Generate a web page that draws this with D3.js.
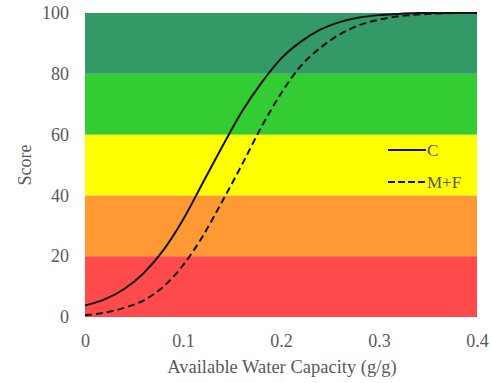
<!DOCTYPE html>
<html><head><meta charset="utf-8">
<script src="https://cdn.jsdelivr.net/npm/d3@7"></script>
<style>body{margin:0;background:#fff}svg{display:block}</style>
</head><body>
<svg id="chart" width="491" height="383"></svg>
<script>
const xValues = [0,0.02,0.04,0.06,0.08,0.10,0.12,0.14,0.16,0.18,0.20,0.22,0.24,0.26,0.28,0.30,0.32,0.34,0.36,0.38,0.40];
const seriesC  = [3.8,5.8,9.2,14.5,22,32,44,56,67.5,77,85,90.5,94.5,97,98.5,99.3,99.7,100,100,100,100];
const seriesMF = [0.6,1.4,3.0,5.5,10,17,26.5,38,50,62.5,73.5,82.5,88.5,93,96,97.8,98.9,99.5,99.8,100,100];
const bands = [
  {from:0,to:20,color:"#ff4b4b"},
  {from:20,to:40,color:"#ff9933"},
  {from:40,to:60,color:"#ffff00"},
  {from:60,to:80,color:"#33cc33"},
  {from:80,to:100,color:"#339966"}
];
const xTicks = [0,0.1,0.2,0.3,0.4];
const yTicks = [0,20,40,60,80,100];
const legendItems = [{name:"C",data:seriesC,dash:null},{name:"M+F",data:seriesMF,dash:"7,4"}];

const svg = d3.select("#chart");
const mLeft=85,mRight=477,mTop=13,mBottom=317;
const x = d3.scaleLinear().domain([0,0.4]).range([mLeft,mRight]);
const y = d3.scaleLinear().domain([0,100]).range([mBottom,mTop]);
const font = "'Liberation Serif','Times New Roman',serif";

svg.selectAll("rect.band").data(bands).enter().append("rect")
  .attr("x",x(0)).attr("width",x(0.4)-x(0))
  .attr("y",d=>y(d.to)).attr("height",d=>y(d.from)-y(d.to))
  .attr("fill",d=>d.color);

const line = d3.line().x((d,i)=>x(xValues[i])).y(d=>y(d)).curve(d3.curveMonotoneX);
legendItems.forEach(s=>{
  svg.append("path").attr("d",line(s.data)).attr("fill","none")
    .attr("stroke","#111").attr("stroke-width",2)
    .attr("stroke-dasharray",s.dash);
});

const xAxis = svg.append("g").attr("transform",`translate(0,${mBottom+14})`)
  .call(d3.axisBottom(x).tickValues(xTicks).tickSize(0).tickFormat(d=>d===0?"0":d3.format(".1f")(d)));
const yAxis = svg.append("g").attr("transform",`translate(${mLeft-13},0)`)
  .call(d3.axisLeft(y).tickValues(yTicks).tickSize(0));
[xAxis,yAxis].forEach(a=>{
  a.select(".domain").remove();
  a.selectAll("text").attr("font-family",font).attr("font-size",18).attr("fill","#595959");
});

svg.append("text").attr("x",(mLeft+mRight)/2 + 1).attr("y",373).attr("text-anchor","middle")
  .attr("font-family",font).attr("font-size",18.5).attr("fill","#595959")
  .text("Available Water Capacity (g/g)");
svg.append("text").attr("transform",`translate(31,165) rotate(-90)`)
  .attr("text-anchor","middle").attr("font-family",font).attr("font-size",18).attr("fill","#595959")
  .text("Score");

legendItems.forEach((s,i)=>{
  const ly = 150 + i*32;
  svg.append("line").attr("x1",388).attr("x2",426).attr("y1",ly).attr("y2",ly)
    .attr("stroke","#111").attr("stroke-width",2).attr("stroke-dasharray",s.dash?"7,3":null);
  svg.append("text").attr("x",427).attr("y",ly+6).attr("font-family",font)
    .attr("font-size",17).attr("fill","#555").text(s.name);
});
</script>
</body></html>
